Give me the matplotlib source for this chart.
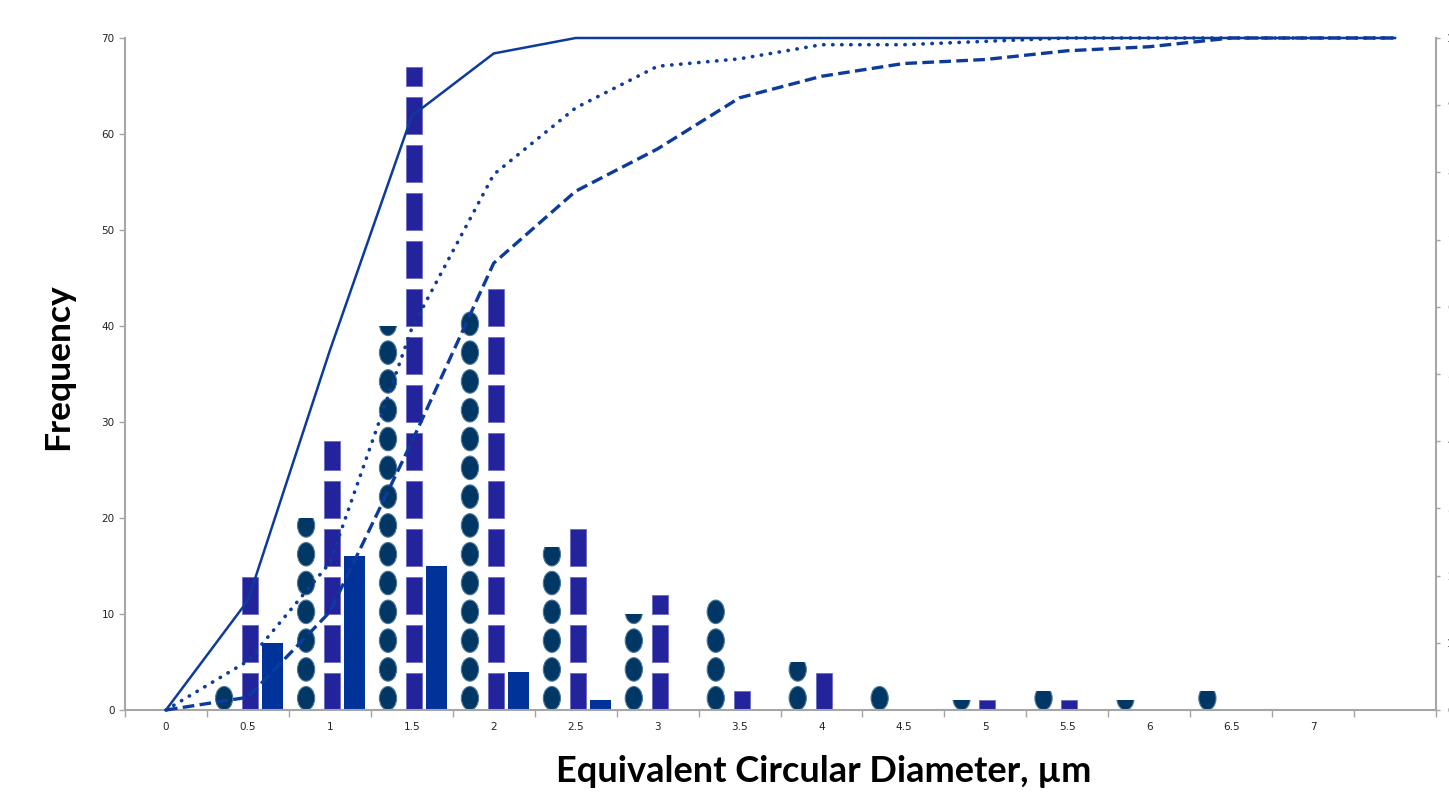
import numpy as np
import matplotlib.pyplot as plt
from matplotlib.patches import Ellipse, Rectangle

# ==========================================================
# data
# ==========================================================
categories = ['0', '0.5', '1', '1.5', '2', '2.5', '3', '3.5',
              '4', '4.5', '5', '5.5', '6', '6.5', '7', '']

# frequency per size class (three samples)
oval_counts = [0, 3, 20, 40, 42, 17, 10, 12, 5, 3, 1, 2, 1, 2, 0, 0]
rect_counts = [0, 14, 28, 67, 44, 19, 12, 2, 4, 0, 1, 1, 0, 0, 0, 0]
solid_counts = [0, 7, 16, 15, 4, 1, 0, 0, 0, 0, 0, 0, 0, 0, 0, 0]

# cumulative % (secondary axis)
cum_solid = [0, 16.3, 53.5, 88.4, 97.7, 100, 100, 100, 100, 100, 100, 100, 100, 100, 100, 100]
cum_rect = [0, 7.3, 21.9, 56.8, 79.7, 89.6, 95.8, 96.9, 99.0, 99.0, 99.5, 100, 100, 100, 100, 100]
cum_oval = [0, 1.9, 14.6, 39.9, 66.5, 77.2, 83.5, 91.1, 94.3, 96.2, 96.8, 98.1, 98.7, 100, 100, 100]

pct_ticks = ['0%', '10%', '20%', '30%', '40%', '50%', '60%', '70%', '80%', '90%', '100%']

# ==========================================================
# style
# ==========================================================
oval_color = '#003764'
rect_color = '#23239B'
solid_color = '#003399'
line_color = '#0D3B9C'
axis_gray = '#A6A6A6'

OVAL_UNIT = 3      # one oval picture = 3 counts
RECT_UNIT = 5      # one rectangle picture = 5 counts

fig = plt.figure(figsize=(14.49, 7.96), dpi=100)
ax = fig.add_axes([125 / 1449, 1 - 710 / 796, (1436 - 125) / 1449, (710 - 38) / 796])

x = np.arange(len(categories))

# ========================
# oval "picture stacked" bars
# ========================
oval_w = 0.21
for xi, v in zip(x, oval_counts):
    if v <= 0:
        continue
    cx = xi - 0.29
    clip = Rectangle((cx - oval_w, 0), 2 * oval_w, v, transform=ax.transData)
    for k in range(int(np.ceil(v / OVAL_UNIT))):
        e = Ellipse((cx, OVAL_UNIT * k + 1.225), oval_w, 2.45,
                    facecolor=oval_color, edgecolor='#4f7898', linewidth=0.8)
        ax.add_patch(e)
        e.set_clip_path(clip)

# ========================
# rectangle "picture stacked" bars
# ========================
for xi, v in zip(x, rect_counts):
    if v <= 0:
        continue
    bottoms = np.arange(0, v, RECT_UNIT)
    heights = np.minimum(3.85, v - bottoms)
    ax.bar(np.full(len(bottoms), xi + 0.025), heights, bottom=bottoms, width=0.195,
           color=rect_color, edgecolor='#6b6bc8', linewidth=0.6)

# ========================
# solid bars
# ========================
ax.bar(x + 0.305, solid_counts, width=0.256, color=solid_color)

# ========================
# primary axis
# ========================
ax.set_xlim(-0.5, len(categories) - 0.5)
ax.set_ylim(0, 70)
ax.set_yticks(range(0, 71, 10))
ax.set_xticks(x)
ax.set_xticklabels(categories)
ax.set_xticks(np.arange(-0.5, len(categories), 1), minor=True)
ax.tick_params(axis='x', which='major', length=0, pad=9, labelsize=7.5, labelcolor='#222222')
ax.tick_params(axis='x', which='minor', length=5, color=axis_gray, width=1)
ax.tick_params(axis='y', length=4, color=axis_gray, width=1, labelsize=7.5, labelcolor='#222222')
for side in ['top', 'right']:
    ax.spines[side].set_visible(False)
for side in ['left', 'bottom']:
    ax.spines[side].set_color(axis_gray)
    ax.spines[side].set_linewidth(1.5)

# ========================
# cumulative lines on secondary axis
# ========================
ax2 = ax.twinx()
ax2.plot(x, cum_solid, color=line_color, linewidth=1.8, clip_on=False)
ax2.plot(x, cum_rect, color=line_color, linewidth=2.6, linestyle=(0, (0.1, 2.4)),
         dash_capstyle='round', clip_on=False)
ax2.plot(x, cum_oval, color=line_color, linewidth=2.4, linestyle=(0, (3.5, 1.6)), clip_on=False)
ax2.set_ylim(0, 100)
ax2.set_yticks(range(0, 101, 10))
ax2.set_yticklabels(pct_ticks)
ax2.tick_params(axis='y', length=3, color=axis_gray, width=1, pad=5,
                labelsize=7.5, labelcolor='#222222')
for side in ['top', 'left', 'bottom']:
    ax2.spines[side].set_visible(False)
ax2.spines['right'].set_color(axis_gray)
ax2.spines['right'].set_linewidth(1.5)

# ========================
# axis titles
# ========================
fig.text(824 / 1449, 1 - 771 / 796, 'Equivalent Circular Diameter, µm',
         ha='center', va='center', fontsize=26, fontweight='bold', family='Lato')
fig.text(58 / 1449, 1 - 367 / 796, 'Frequency', rotation=90,
         ha='center', va='center', fontsize=25.5, fontweight='bold', family='Lato')

fig.savefig('out.png', dpi=100)
